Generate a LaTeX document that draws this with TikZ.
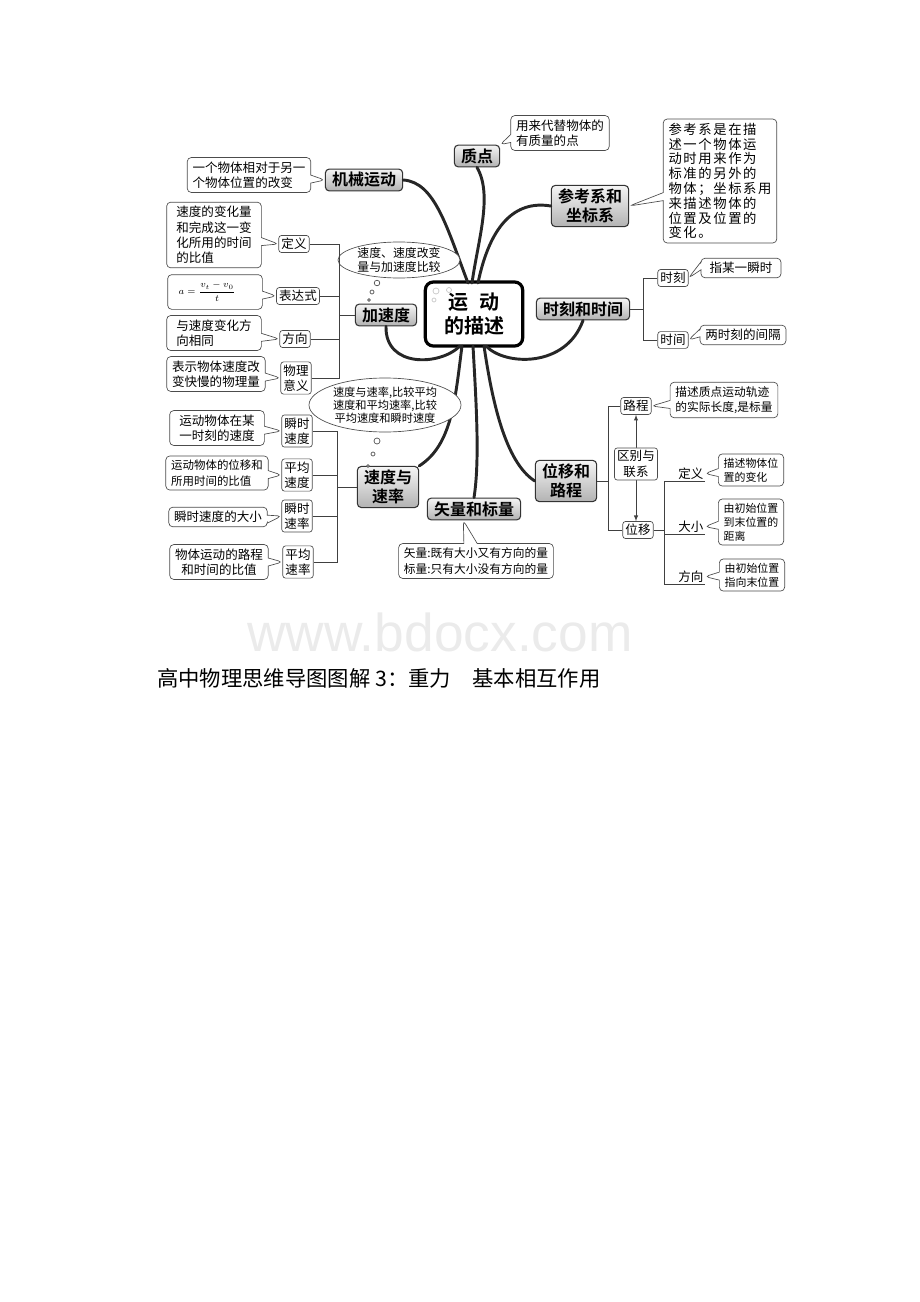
\documentclass[tikz,border=0pt]{standalone}
\usepackage{amsmath}
\usepackage{fontspec}
\setmainfont{Noto Sans CJK SC}[BoldFont={Noto Sans CJK SC Bold}]
\newfontfamily\wmfont{Liberation Sans}
\usetikzlibrary{shapes.callouts}

\tikzset{
  core/.style={draw,line width=2.4pt,rounded corners=6pt,fill=white,minimum width=73pt,minimum height=48pt,align=center,font=\fontsize{15}{17.5}\selectfont\bfseries},
  topic/.style={draw=gray!40!black,line width=0.8pt,rounded corners=3pt,top color=gray!8,bottom color=gray!60,align=center,inner xsep=5pt,inner ysep=2.5pt,font=\fontsize{12}{14.5}\selectfont\bfseries},
  leaf/.style={draw=gray!60!black,line width=0.5pt,rounded corners=2pt,fill=white,align=center,inner sep=2pt,font=\fontsize{9.4}{11.5}\selectfont},
  callbox/.style={rectangle callout,draw=gray!60!black,line width=0.5pt,rounded corners=3pt,fill=white,align=left,inner xsep=4pt,inner ysep=3pt,callout pointer width=6pt,font=\fontsize{9.4}{11.5}\selectfont},
  thought/.style={align=center,inner sep=0pt,font=\fontsize{8.9}{10.2}\selectfont},
  bubble/.style={draw=gray!60!black,line width=0.5pt,fill=white},
  branch/.style={draw=gray!30!black,line width=2.2pt,line cap=round},
  wire/.style={draw=gray!50!black,line width=0.5pt},
  ulabel/.style={inner sep=1pt,font=\fontsize{9.4}{11.5}\selectfont},
}

\begin{document}
\begin{tikzpicture}[x=0.75pt,y=-0.75pt]
\useasboundingbox (0,0) rectangle (920,1302);
%水印
\node[text=gray!16,font=\wmfont\fontsize{40}{40}\selectfont] (wm) at (440,632) {www.bdocx.com};
%中心
\node[core] (core) at (474,314) {运\hspace{0.6em}动\\的描述};
\draw[gray!45,line width=0.5pt] (436,291) circle (3) (449,290) circle (2.5) (434,300) circle (2);
%主题
\node[topic] (jxyd) at (364,180) {机械运动};
\node[topic] (zd) at (477,156) {质点};
\node[topic] (ckx) at (590,206) {参考系和\\坐标系};
\node[topic] (skhsj) at (583,309) {时刻和时间};
\node[topic] (jsd) at (386,315) {加速度};
\node[topic] (sdsl) at (388,487) {速度与\\速率};
\node[topic] (slbl) at (474,509) {矢量和标量};
\node[topic] (wyhlc) at (566,481) {位移和\\路程};
%分支
\draw[branch] (jxyd.east) .. controls (435,182) and (447,228) .. (468,283);
\draw[branch] (zd.south) .. controls (493,195) and (478,240) .. (472,283);
\draw[branch] (ckx.west) .. controls (515,200) and (490,225) .. (478,283);
\draw[branch] (jsd.south) .. controls (385,368) and (440,366) .. (460,346);
\draw[branch] (skhsj.south) .. controls (566,368) and (505,366) .. (486,346);
\draw[branch] (sdsl.north east) .. controls (452,445) and (455,400) .. (462,346);
\draw[branch] (slbl.north) .. controls (480,460) and (476,400) .. (473,346);
\draw[branch] (wyhlc.west) .. controls (505,462) and (492,400) .. (484,346);
%比较
\draw[bubble] (399,260) ellipse (61 and 18);
\node[thought] (cmp1) at (399,260) {速度、速度改变\\量与加速度比较};
\draw[bubble] (377,283) circle (2.8) (372,292) circle (2) (369,300) circle (1.4);
\draw[bubble] (385,405) ellipse (76 and 27);
\node[thought,font=\fontsize{8.4}{9.8}\selectfont] (cmp2) at (385,405) {速度与速率,比较平均\\速度和平均速率,比较\\平均速度和瞬时速度};
\draw[bubble] (377,441) circle (3) (373,454) circle (2) (368,466) circle (1.4);
%机械运动、质点、参考系
\node[callbox,callout absolute pointer={(jxyd.west)}] (jxydnote) at (249,175) {一个物体相对于另一\\个物体位置的改变};
\node[callbox,callout absolute pointer={(zd.north east)}] (zdnote) at (560,133) {用来代替物体的\\有质量的点};
\node[callbox,font=\fontsize{10}{11.1}\selectfont\addfontfeatures{LetterSpace=12},callout absolute pointer={(ckx.east)}] (ckxnote) at (720,181) {参考系是在描\\述一个物体运\\动时用来作为\\标准的另外的\\物体；坐标系用\\来描述物体的\\位置及位置的\\变化。};
%时刻和时间
\node[leaf] (sk) at (673,278) {时刻};
\node[leaf] (sj) at (673,340) {时间};
\coordinate (skbus) at (643,309);
\draw[wire] (skhsj.east) -- (skbus);
\draw[wire] (sk.west) -| (skbus);
\draw[wire] (sj.west) -| (skbus);
\node[callbox,minimum width=60pt,align=center,callout absolute pointer={(sk.east)}] (sknote) at (741,268) {指某一瞬时};
\node[callbox,minimum width=60pt,align=center,callout absolute pointer={(sj.east)}] (sjnote) at (743,335) {两时刻的间隔};
%加速度
\node[leaf] (jdy) at (294,244) {定义};
\node[leaf] (jbds) at (298,296) {表达式};
\node[leaf] (jfx) at (295,339) {方向};
\node[leaf] (jyy) at (296,378) {物理\\意义};
\coordinate (jbus) at (339,315);
\draw[wire] (jsd.west) -- (jbus);
\draw[wire] (jdy.east) -| (jbus);
\draw[wire] (jyy.east) -| (jbus);
\draw[wire] (jbds.east) -- (jbds.east -| jbus);
\draw[wire] (jfx.east) -- (jfx.east -| jbus);
\node[callbox,minimum width=71pt,callout absolute pointer={(jdy.west)}] (jdynote) at (214,235) {速度的变化量\\和完成这一变\\化所用的时间\\的比值};
\node[callbox,minimum width=71pt,minimum height=26pt,align=center,callout absolute pointer={(jbds.west)}] (jbdsnote) at (215,292) {\fontsize{7}{8}\selectfont$a=\dfrac{v_t-v_0}{t}$\hspace{12pt}};
\node[callbox,minimum width=71pt,callout absolute pointer={(jfx.west)}] (jfxnote) at (214,333) {与速度变化方\\向相同};
\node[callbox,minimum width=71pt,callout absolute pointer={(jyy.west)}] (jyynote) at (216,374) {表示物体速度改\\变快慢的物理量};
%速度与速率
\node[leaf] (ssd) at (297,431) {瞬时\\速度};
\node[leaf] (pjsd) at (297,475) {平均\\速度};
\node[leaf] (ssl) at (297,516) {瞬时\\速率};
\node[leaf] (pjsl) at (298,562) {平均\\速率};
\coordinate (sbus) at (337,497);
\draw[wire] (sdsl.west) -- (sdsl.west -| sbus);
\draw[wire] (ssd.east) -- (ssd.east -| sbus) -- (pjsl.east -| sbus) -- (pjsl.east);
\draw[wire] (pjsd.east) -- (pjsd.east -| sbus);
\draw[wire] (ssl.east) -- (ssl.east -| sbus);
\node[callbox,minimum width=71pt,callout absolute pointer={(ssd.west)}] (ssdnote) at (217,428) {运动物体在某\\一时刻的速度};
\node[callbox,minimum width=71pt,font=\fontsize{8.6}{11.5}\selectfont,callout absolute pointer={(pjsd.west)}] (pjsdnote) at (217,473) {运动物体的位移和\\所用时间的比值};
\node[callbox,minimum width=70pt,callout absolute pointer={(ssl.west)}] (sslnote) at (218,517) {瞬时速度的大小};
\node[callbox,minimum width=70pt,align=center,callout absolute pointer={(pjsl.west)}] (pjslnote) at (219,562) {物体运动的路程\\和时间的比值};
%矢量和标量
\node[callbox,font=\fontsize{8.8}{12}\selectfont,callout pointer width=10pt,callout absolute pointer={([xshift=-8pt]slbl.south)}] (slblnote) at (476,561) {矢量:既有大小又有方向的量\\标量:只有大小没有方向的量};
%位移和路程
\node[leaf] (lc) at (636,406) {路程};
\node[leaf] (wy) at (638,530) {位移};
\coordinate (wbus) at (608,478);
\draw[wire] (wyhlc.east) -- (wyhlc.east -| wbus);
\draw[wire] (lc.west) -| (wbus);
\draw[wire] (wy.west) -| (wbus);
\draw[wire,<->,>=latex] (lc.south) -- (lc.south |- wy.north);
\node[leaf] (qblx) at (636,464) {区别与\\联系};
\node[callbox,font=\fontsize{8.8}{11.5}\selectfont,callout absolute pointer={(lc.east)}] (lcnote) at (724,400) {描述质点运动轨迹\\的实际长度,是标量};
\node[ulabel,anchor=south east] (wdy) at (705,481) {定义};
\node[ulabel,anchor=south east] (wdx) at (705,534) {大小};
\node[ulabel,anchor=south east] (wfx) at (705,584) {方向};
\coordinate (wybus) at (664,534);
\draw[wire] (wy.east) -- (wy.east -| wybus);
\draw[wire] (wdy.south east) -- (wdy.south west -| wybus) -- (wfx.south west -| wybus) -- (wfx.south east);
\draw[wire] (wdx.south west -| wybus) -- (wdx.south east);
\node[callbox,font=\fontsize{8.2}{10.5}\selectfont,callout absolute pointer={(wdy.east)}] (wdynote) at (751,470) {描述物体位\\置的变化};
\node[callbox,font=\fontsize{8.2}{10.5}\selectfont,callout absolute pointer={(wdx.east)}] (wdxnote) at (751,522) {由初始位置\\到末位置的\\距离};
\node[callbox,font=\fontsize{8.2}{10.5}\selectfont,callout absolute pointer={(wfx.east)}] (wfxnote) at (752,575) {由初始位置\\指向末位置};
%标题
\node[anchor=west,inner sep=0pt,font=\fontsize{16}{16}\selectfont] (cap) at (157,678) {高中物理思维导图图解 3：重力\hspace{1em}基本相互作用};
\end{tikzpicture}
\end{document}
